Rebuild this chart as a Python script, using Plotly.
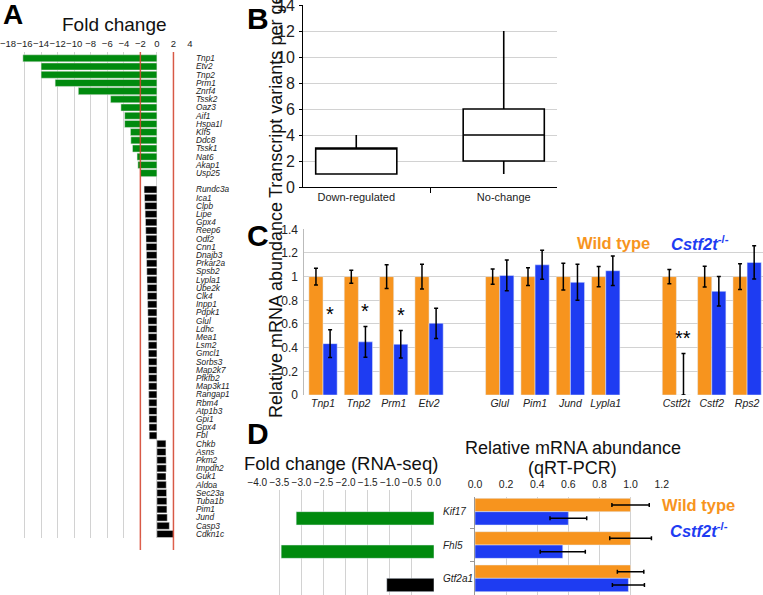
import plotly.graph_objects as go

W, H = 763, 595
def fx(p): return p / W
def fy(p): return 1 - p / H

FONT = "Liberation Sans, Arial, Helvetica, sans-serif"
ORANGE = "#F7941E"
BLUE = "#1E3CF2"
GREEN = "#008A0E"
GRID = "#d2d2d2"

# ---------------- Panel A data ----------------
a_down_genes = ["Tnp1", "Etv2", "Tnp2", "Prm1", "Znrf4", "Tssk2", "Oaz3", "Aif1",
                "Hspa1l", "Klf5", "Ddc8", "Tssk1", "Nat6", "Akap1", "Usp25"]
a_down_fc = [-16.2, -14.0, -14.0, -12.3, -9.5, -5.6, -4.35, -3.9,
             -3.9, -3.2, -3.15, -2.95, -2.4, -2.3, -2.0]
a_other_genes = ["Rundc3a", "Ica1", "Clpb", "Lipe", "Gpx4", "Reep6", "Odf2", "Cnn1",
                 "Dnajb3", "Prkar2a", "Spsb2", "Lypla1", "Ube2k", "Clk4", "Inpp1", "Pdpk1",
                 "Glul", "Ldhc", "Mea1", "Lsm2", "Gmcl1", "Sorbs3", "Map2k7", "Pfkfb2",
                 "Map3k11", "Rangap1", "Rbm4", "Atp1b3", "Gpi1", "Gpx4", "Fbl",
                 "Chkb", "Asns", "Pkm2", "Impdh2", "Guk1", "Aldoa", "Sec23a", "Tuba1b",
                 "Pim1", "Jund", "Casp3", "Cdkn1c"]
a_other_fc = [-1.55, -1.5, -1.46, -1.42, -1.38, -1.35, -1.32, -1.3,
              -1.27, -1.25, -1.22, -1.2, -1.17, -1.15, -1.12, -1.1,
              -1.08, -1.06, -1.05, -1.04, -1.03, -1.02, -1.01, -1.0,
              -1.0, -0.99, -0.98, -0.97, -0.96, -0.95, -0.93,
              1.09, 1.09, 1.12, 1.13, 1.1, 1.13, 1.17, 1.2,
              1.21, 1.25, 1.5, 1.98]
a_thresholds = [-2, 2]

# ---------------- Panel B data ----------------
b_groups = ["Down-regulated", "No-change"]
b_min = [1, 1]
b_q1 = [1, 2]
b_median = [3, 4]
b_q3 = [3, 6]
b_max = [4, 12]

# ---------------- Panel C data ----------------
c_genes = ["Tnp1", "Tnp2", "Prm1", "Etv2", "Glul", "Pim1", "Jund", "Lypla1",
           "Cstf2t", "Cstf2", "Rps2"]
c_gap_after = ["Etv2", "Lypla1"]
c_wt = [1, 1, 1, 1, 1, 1, 1, 1, 1, 1, 1]
c_wt_err = [0.07, 0.055, 0.1, 0.105, 0.065, 0.075, 0.113, 0.085, 0.06, 0.088, 0.108]
c_ko = [0.434, 0.449, 0.429, 0.606, 1.01, 1.10, 0.952, 1.05, 0.0, 0.876, 1.12]
c_ko_err_plus = [0.117, 0.13, 0.117, 0.128, 0.13, 0.122, 0.152, 0.125, 0.35, 0.125, 0.14]
c_ko_err_minus = [0.117, 0.13, 0.117, 0.128, 0.13, 0.122, 0.152, 0.125, 0.0, 0.125, 0.14]
c_sig = ["*", "*", "*", "", "", "", "", "", "**", "", ""]

# ---------------- Panel D data ----------------
d_genes = ["Kif17", "Fhl5", "Gtf2a1"]
d_fc = [-3.12, -3.46, -1.07]
d_fc_down = [True, True, False]
d_wt = [1, 1, 1]
d_wt_err = [0.12, 0.134, 0.085]
d_ko = [0.6, 0.564, 0.986]
d_ko_err = [0.118, 0.145, 0.103]

fig = go.Figure()

# Panel A bars
a_down_pos = list(range(len(a_down_genes)))
a_other_pos = list(range(len(a_down_genes) + 1, len(a_down_genes) + 1 + len(a_other_genes)))
fig.add_trace(go.Bar(x=a_down_fc, y=a_down_pos, orientation="h", marker_color=GREEN,
                     marker_line=dict(color="#e8e8e8", width=0.5), width=0.86,
                     offsetgroup="A", xaxis="x", yaxis="y", showlegend=False))
fig.add_trace(go.Bar(x=a_other_fc, y=a_other_pos, orientation="h", marker_color="black",
                     marker_line=dict(color="#e8e8e8", width=0.5), width=0.86,
                     offsetgroup="A", xaxis="x", yaxis="y", showlegend=False))

# Panel B box
fig.add_trace(go.Box(x=b_groups, q1=b_q1, median=b_median, q3=b_q3,
                     lowerfence=b_min, upperfence=b_max, boxpoints=False,
                     fillcolor="white", line=dict(color="black", width=1.6),
                     whiskerwidth=0, width=0.55, xaxis="x2", yaxis="y2", showlegend=False))

# Panel C bars
errc = dict(color="black", thickness=1.5, width=2)
fig.add_trace(go.Bar(x=c_genes, y=c_wt, marker_color=ORANGE, xaxis="x3", yaxis="y3",
                     error_y=dict(type="data", array=c_wt_err, **errc), showlegend=False))
fig.add_trace(go.Bar(x=c_genes, y=c_ko, marker_color=BLUE, xaxis="x3", yaxis="y3",
                     error_y=dict(type="data", array=c_ko_err_plus,
                                  arrayminus=c_ko_err_minus, **errc), showlegend=False))

# Panel D left
fig.add_trace(go.Bar(x=d_fc, y=d_genes, orientation="h", width=0.4, offset=0,
                     marker_color=[GREEN if d else "black" for d in d_fc_down],
                     xaxis="x4", yaxis="y4", showlegend=False))
# Panel D right
fig.add_trace(go.Bar(x=d_wt, y=d_genes, orientation="h", marker_color=ORANGE,
                     error_x=dict(type="data", array=d_wt_err, **errc),
                     xaxis="x5", yaxis="y5", showlegend=False))
fig.add_trace(go.Bar(x=d_ko, y=d_genes, orientation="h", marker_color=BLUE,
                     error_x=dict(type="data", array=d_ko_err, **errc),
                     xaxis="x5", yaxis="y5", showlegend=False))

# category order for C with spacers
c_order = []
sp = " "
for g in c_genes:
    c_order.append(g)
    if g in c_gap_after:
        c_order.append(sp)
        sp += " "

a_all_pos = a_down_pos + a_other_pos
a_all_names = a_down_genes + a_other_genes

common = dict(automargin=False, ticklabeloverflow="allow")
fig.update_layout(
    width=W, height=H, margin=dict(l=0, r=0, t=0, b=0, pad=0, autoexpand=False),
    paper_bgcolor="white", plot_bgcolor="white",
    font=dict(family=FONT, color="#222"),
    barmode="group", bargap=0.2,
    xaxis=dict(domain=[fx(8), fx(190)], anchor="y", range=[-18, 4], dtick=2, side="top",
               showgrid=True, gridcolor=GRID, zeroline=False, ticks="", tickangle=0,
               tickfont=dict(size=9.5, color="#222"), ticklabelstandoff=2, **common),
    yaxis=dict(domain=[fy(538), fy(52)], anchor="x", range=[58.49, -0.77],
               tickvals=a_all_pos, ticktext=a_all_names, side="right",
               showgrid=False, zeroline=False, ticks="",
               tickfont=dict(size=8.3, style="italic", color="#222"), ticklabelstandoff=5,
               **common),
    xaxis2=dict(domain=[fx(303), fx(557)], anchor="y2", type="category",
                showline=True, linecolor="black", linewidth=1, ticks="outside",
                tickson="boundaries", ticklen=5, tickcolor="black", tickangle=0,
                tickfont=dict(size=11, color="#222"), **common),
    yaxis2=dict(domain=[fy(187), fy(5)], anchor="x2", range=[0, 14], dtick=2,
                showline=True, linecolor="black", ticks="outside", ticklen=3,
                tickcolor="black", gridcolor=GRID, zeroline=False,
                tickfont=dict(size=16, color="#222"), ticklabelstandoff=1, **common),
    xaxis3=dict(domain=[fx(304.3), 1], anchor="y3", type="category",
                categoryorder="array", categoryarray=c_order, range=[-0.53, 12.45],
                ticks="", showline=False, tickangle=0,
                tickfont=dict(size=10.5, style="italic", color="#222"), **common),
    yaxis3=dict(domain=[fy(395), fy(229.3)], anchor="x3", range=[0, 1.4], dtick=0.2,
                gridcolor=GRID, showline=True, linecolor="#bbbbbb", zeroline=False,
                tickfont=dict(size=12, color="#222"), ticklabelstandoff=3, **common),
    xaxis4=dict(domain=[fx(257.3), fx(434)], anchor="y4", range=[-4, 0], dtick=0.5,
                tickformat=".1f", side="top", gridcolor=GRID, zeroline=False, ticks="",
                tickangle=0, tickfont=dict(size=10, color="#222"), ticklabelstandoff=1,
                **common),
    yaxis4=dict(domain=[0, fy(490)], anchor="x4", type="category",
                categoryorder="array", categoryarray=d_genes, range=[2.5, -0.65],
                side="right", showgrid=False, ticks="",
                tickfont=dict(size=10, style="italic", color="#222"), ticklabelstandoff=8,
                **common),
    xaxis5=dict(domain=[fx(475), fx(661.7)], anchor="y5", range=[0, 1.2], dtick=0.2,
                tickformat=".1f", side="top", gridcolor=GRID, zeroline=False, ticks="",
                tickangle=0, tickfont=dict(size=10.5, color="#222"), ticklabelstandoff=6,
                **common),
    yaxis5=dict(domain=[0, fy(496.7)], anchor="x5", type="category",
                categoryorder="array", categoryarray=d_genes, range=[2.5, -0.45],
                showticklabels=False, ticks="outside", tickson="boundaries", ticklen=4,
                tickcolor="#999", showline=True, linecolor="#999", showgrid=False,
                **common),
)

# threshold lines in panel A
for t in a_thresholds:
    fig.add_shape(type="line", xref="x", yref="paper", x0=t, x1=t, y0=fy(550), y1=fy(52),
                  line=dict(color="#d9452e", width=1.5), opacity=0.85, layer="above")

ann = []
def txt(x, y, s, size, color="#111", xanchor="center", yanchor="middle", angle=0):
    ann.append(dict(x=fx(x), y=fy(y), xref="paper", yref="paper", text=s, showarrow=False,
                    xanchor=xanchor, yanchor=yanchor, textangle=angle,
                    font=dict(family=FONT, size=size, color=color)))

# panel letters
txt(1, 14, "<b>A</b>", 28, "black", xanchor="left")
txt(245, 18, "<b>B</b>", 30, "black", xanchor="left")
txt(245, 236, "<b>C</b>", 30, "black", xanchor="left")
txt(245, 433, "<b>D</b>", 30, "black", xanchor="left")

# titles
txt(114, 25, "Fold change", 19)
txt(276, 87, "Transcript variants per gene", 18, angle=-90)
txt(276, 310, "Relative mRNA abundance", 18, angle=-90)
txt(341, 463, "Fold change (RNA-seq)", 18.5)
txt(572.5, 448, "Relative mRNA abundance", 18)
txt(572, 468, "(qRT-PCR)", 18)

# legends
txt(613, 243, "<b>Wild type</b>", 16.5, ORANGE)
txt(700, 243, "<b><i>Cstf2t</i><sup>-/-</sup></b>", 16.5, BLUE)
txt(698, 505, "<b>Wild type</b>", 16.5, ORANGE)
txt(699, 530, "<b><i>Cstf2t</i><sup>-/-</sup></b>", 16.5, BLUE)

# significance stars
for g, v, e, s in zip(c_genes, c_ko, c_ko_err_plus, c_sig):
    if s:
        ann.append(dict(x=g, y=v + e + 0.02, xref="x3", yref="y3", text=s, showarrow=False,
                        xshift=7, yanchor="bottom",
                        font=dict(family=FONT, size=20, color="black")))

fig.update_layout(annotations=ann)
fig.write_html("out.html", config={"displayModeBar": False},
               post_script="document.body.style.margin='0px';")
